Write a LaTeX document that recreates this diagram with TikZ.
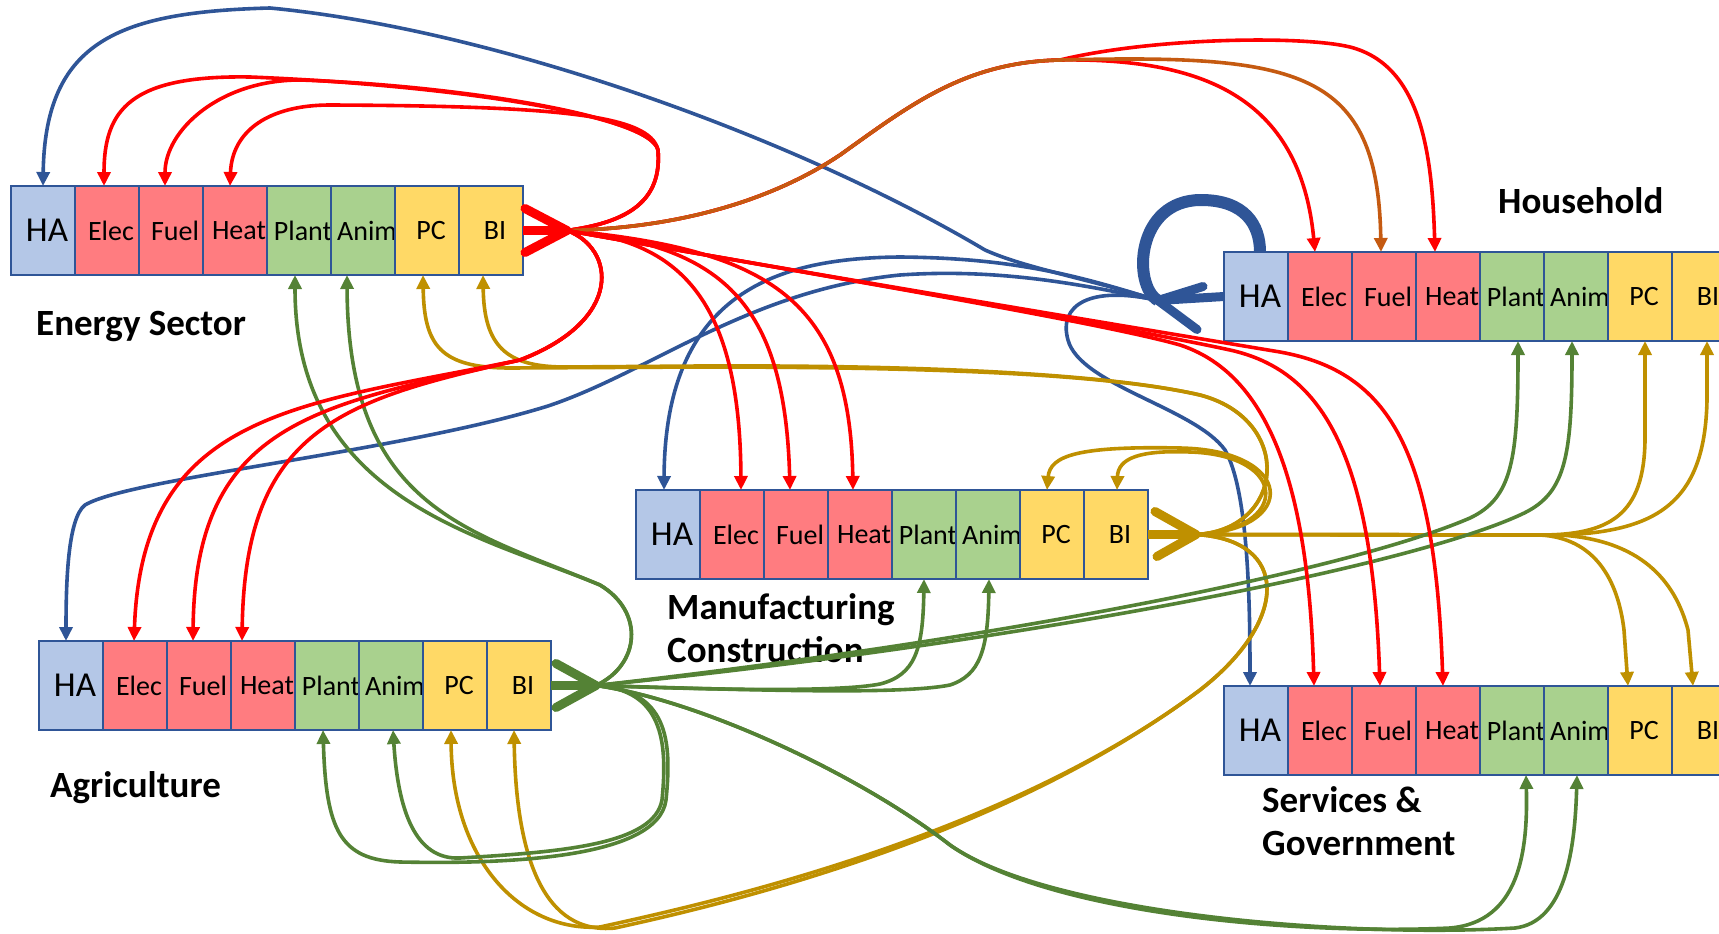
\documentclass[tikz,border=0pt]{standalone}
\usepackage{fontspec}
\setmainfont{Carlito}
\usepackage{xcolor}
\usetikzlibrary{positioning, arrows.meta, calc}

\definecolor{haFill}{HTML}{B4C7E7}
\definecolor{enFill}{HTML}{FF7C80}
\definecolor{bioFill}{HTML}{A9D18E}
\definecolor{prodFill}{HTML}{FFD966}
\definecolor{frameBlue}{HTML}{2F5597}
\definecolor{flowRed}{HTML}{FF0000}
\definecolor{flowOrange}{HTML}{C55A11}
\definecolor{flowGold}{HTML}{BF9000}
\definecolor{flowGreen}{HTML}{548235}

% one sector = a row of eight cells
\newcommand{\sectorrow}[3]{%
  \node[cell, fill=haFill, anchor=north west] (#1-HA) at (#2,#3) {\makebox[0pt]{\hspace{8pt}\fontsize{35}{35}\selectfont HA}};
  \foreach \c/\f [remember=\c as \p (initially HA)] in {Elec/enFill, Fuel/enFill, Heat/enFill, Plant/bioFill, Anim/bioFill, PC/prodFill, BI/prodFill}
    \node[cell, fill=\f, right=0pt of #1-\p] (#1-\c) {\makebox[0pt]{\hspace{8pt}\c}};
}

% thick output mark: stem and chevron
\newcommand{\hubmark}[5]{%
  \draw[#1, line width=9pt] (#2) -- (#3);
  \draw[#1, line width=9pt, line cap=round, line join=round] ($(#3)+(#4)$) -- (#3) -- ($(#3)+(#5)$);
}

\begin{document}
\begin{tikzpicture}[
    x=1pt, y=-1pt,
    cell/.style={draw=frameBlue, line width=2pt, minimum width=64pt, minimum height=89pt, inner sep=0pt, outer sep=0pt, font=\fontsize{28}{28}\selectfont},
    flow/.style={line width=3.6pt, -{Triangle[length=14pt, width=13pt]}},
    sectorlabel/.style={font=\bfseries\fontsize{37}{43}\selectfont, inner sep=0pt, align=left, anchor=base west}
  ]
  \useasboundingbox (0,0) rectangle (1719,934);

  % Sectors
  \sectorrow{en}{11}{186}
  \sectorrow{hh}{1224}{252}
  \sectorrow{mf}{636}{490}
  \sectorrow{ag}{39}{641}
  \sectorrow{se}{1224}{686}

  \node[sectorlabel] (enLabel) at (36,335) {Energy Sector};
  \node[sectorlabel] (hhLabel) at (1498,213) {Household};
  \node[sectorlabel] (mfLabel) at (667,662) {Manufacturing\\Construction};
  \node[sectorlabel] (agLabel) at (50,797) {Agriculture};
  \node[sectorlabel] (seLabel) at (1262,855) {Services \&\\Government};

  % Hubs
  \coordinate (en-hub) at ($(en-BI.east)+(44,0)$);
  \coordinate (mf-hub) at ($(mf-BI.east)+(48,0)$);
  \coordinate (ag-hub) at ($(ag-BI.east)+(45,0)$);
  \coordinate (hh-hub) at ($(hh-HA.west)+(-66,4)$);

  % Household HA (blue)
  \draw[flow, frameBlue] (hh-hub) .. controls (1085,278) and (1025,268) .. (985,250) .. controls (800,140) and (500,30) .. (270,8) .. controls (120,12) and (45,40) .. (en-HA.north);
  \draw[flow, frameBlue] (hh-hub) .. controls (1085,278) and (1020,258) .. (900,257) .. controls (780,258) and (665,290) .. ([xshift=-4pt]mf-HA.north);
  \draw[flow, frameBlue] (hh-hub) .. controls (1085,285) and (1000,268) .. (900,275) .. controls (750,290) and (650,372) .. (548,406) .. controls (400,452) and (130,478) .. (85,505) .. controls (68,518) and (66,580) .. ([xshift=-5pt]ag-HA.north);
  \draw[flow, frameBlue] (hh-hub) .. controls (1090,285) and (1058,305) .. (1068,340) .. controls (1080,385) and (1195,408) .. (1225,450) .. controls (1248,490) and (1250,600) .. ([xshift=-6pt]se-HA.north);
  \draw[frameBlue, line width=12pt] (hh-hub) .. controls (1132,285) and (1136,200) .. (1201,200) .. controls (1245,200) and (1260,225) .. ([xshift=4pt]hh-HA.north);

  % Manufacturing PC/BI (gold)
  \draw[flow, flowGold] (mf-hub) .. controls (1285,530) and (1295,420) .. (1200,395) .. controls (1100,372) and (900,367) .. (700,367) -- (510,368) .. controls (440,368) and (424,345) .. ([xshift=-4pt]en-PC.south);
  \draw[flow, flowGold] (mf-hub) .. controls (1285,530) and (1295,420) .. (1200,395) .. controls (1100,372) and (900,365) .. (700,366) -- (565,367) .. controls (505,367) and (484,345) .. ([xshift=-8pt]en-BI.south);
  \draw[flow, flowGold] (mf-hub) .. controls (1300,530) and (1295,450) .. (1180,448) .. controls (1080,446) and (1050,455) .. ([xshift=-5pt]mf-PC.north);
  \draw[flow, flowGold] (mf-hub) .. controls (1290,530) and (1290,455) .. (1190,452) .. controls (1140,450) and (1118,458) .. ([xshift=1pt]mf-BI.north);
  \draw[flow, flowGold] (mf-hub) .. controls (1290,540) and (1290,620) .. (1200,690) .. controls (1000,840) and (700,905) .. (600,927) .. controls (520,932) and (452,860) .. ([xshift=-4pt]ag-PC.south);
  \draw[flow, flowGold] (mf-hub) .. controls (1290,540) and (1290,620) .. (1200,690) .. controls (1000,840) and (720,905) .. (615,928) .. controls (545,935) and (516,860) .. ([xshift=-5pt]ag-BI.south);
  \draw[flow, flowGold] (mf-hub) -- (1540,535) .. controls (1610,535) and (1644,515) .. (1645,440) -- ([xshift=5pt]hh-PC.south);
  \draw[flow, flowGold] (mf-hub) -- (1560,535) .. controls (1660,532) and (1705,500) .. (1707,400) -- ([xshift=3pt]hh-BI.south);
  \draw[flow, flowGold] (mf-hub) -- (1540,535) .. controls (1595,538) and (1618,580) .. (1624,630) -- ([xshift=-12pt]se-PC.north);
  \draw[flow, flowGold] (mf-hub) -- (1560,535) .. controls (1640,540) and (1675,580) .. (1688,630) -- ([xshift=-11pt]se-BI.north);

  % Agriculture Plant/Anim (green)
  \draw[flow, flowGreen] (ag-hub) .. controls (640,665) and (645,612) .. (600,585) .. controls (480,535) and (295,500) .. ([xshift=-4pt]en-Plant.south);
  \draw[flow, flowGreen] (ag-hub) .. controls (640,665) and (645,612) .. (600,585) .. controls (470,530) and (348,510) .. ([xshift=-16pt]en-Anim.south);
  \draw[flow, flowGreen] (ag-hub) .. controls (668,690) and (672,740) .. (666,800) .. controls (658,860) and (500,864) .. (400,862) .. controls (340,860) and (326,830) .. ([xshift=-4pt]ag-Plant.south);
  \draw[flow, flowGreen] (ag-hub) .. controls (662,690) and (668,740) .. (662,800) .. controls (654,845) and (560,852) .. (460,858) .. controls (415,860) and (398,810) .. ([xshift=2pt]ag-Anim.south);
  \draw[flow, flowGreen] (ag-hub) .. controls (720,690) and (840,692) .. (880,684) .. controls (915,675) and (923,650) .. (mf-Plant.south);
  \draw[flow, flowGreen] (ag-hub) .. controls (750,690) and (900,695) .. (950,685) .. controls (980,675) and (988,650) .. ([xshift=1pt]mf-Anim.south);
  \draw[flow, flowGreen] (ag-hub) .. controls (1000,640) and (1350,570) .. (1470,518) .. controls (1512,498) and (1518,460) .. ([xshift=6pt]hh-Plant.south);
  \draw[flow, flowGreen] (ag-hub) .. controls (1000,645) and (1400,570) .. (1520,515) .. controls (1565,495) and (1572,460) .. ([xshift=-4pt]hh-Anim.south);
  \draw[flow, flowGreen] (ag-hub) .. controls (700,700) and (860,775) .. (950,845) .. controls (1050,915) and (1300,935) .. (1450,928) .. controls (1520,922) and (1528,850) .. ([xshift=14pt]se-Plant.south);
  \draw[flow, flowGreen] (ag-hub) .. controls (700,700) and (860,775) .. (950,845) .. controls (1050,915) and (1350,938) .. (1515,928) .. controls (1565,922) and (1575,850) .. ([xshift=1pt]se-Anim.south);

  % Energy Elec/Fuel/Heat (red)
  \draw[flow, flowRed] (en-hub) .. controls (630,222) and (662,200) .. (658,150) .. controls (650,115) and (450,85) .. (250,77) .. controls (130,75) and (104,110) .. ([xshift=-3pt]en-Elec.north);
  \draw[flow, flowRed] (en-hub) .. controls (630,222) and (662,200) .. (658,150) .. controls (650,115) and (450,85) .. (300,80) .. controls (220,80) and (165,130) .. ([xshift=-6pt]en-Fuel.north);
  \draw[flow, flowRed] (en-hub) .. controls (630,222) and (662,200) .. (658,150) .. controls (650,115) and (560,106) .. (330,105) .. controls (270,105) and (232,130) .. ([xshift=-5pt]en-Heat.north);
  \draw[flow, flowRed] (en-hub) .. controls (615,248) and (625,320) .. (520,360) .. controls (300,405) and (142,410) .. ([xshift=-1pt]ag-Elec.north);
  \draw[flow, flowRed] (en-hub) .. controls (615,248) and (625,320) .. (520,360) .. controls (320,405) and (195,420) .. ([xshift=-6pt]ag-Fuel.north);
  \draw[flow, flowRed] (en-hub) .. controls (615,248) and (625,320) .. (520,360) .. controls (340,400) and (245,430) .. ([xshift=-21pt]ag-Heat.north);
  \draw[flow, flowRed] (en-hub) .. controls (680,240) and (740,300) .. ([xshift=9pt]mf-Elec.north);
  \draw[flow, flowRed] (en-hub) .. controls (720,245) and (785,300) .. ([xshift=-6pt]mf-Fuel.north);
  \draw[flow, flowRed] (en-hub) .. controls (770,250) and (850,300) .. ([xshift=-7pt]mf-Heat.north);
  \draw[flow, flowRed] (en-hub) .. controls (690,228) and (780,195) .. (840,155) .. controls (910,105) and (965,62) .. (1060,60) .. controls (1200,58) and (1300,95) .. ([xshift=-5pt]hh-Elec.north);
  \draw[flow, flowRed] (en-hub) .. controls (690,228) and (780,195) .. (840,155) .. controls (910,105) and (965,62) .. (1060,60) .. controls (1150,38) and (1300,35) .. (1350,47) .. controls (1420,65) and (1432,150) .. ([xshift=-13pt]hh-Heat.north);
  \draw[flow, flowOrange] (en-hub) .. controls (690,228) and (780,195) .. (840,155) .. controls (910,105) and (965,62) .. (1060,60) .. controls (1300,54) and (1378,70) .. ([xshift=-3pt]hh-Fuel.north);
  \draw[flow, flowRed] (en-hub) .. controls (800,272) and (1100,322) .. (1180,345) .. controls (1262,372) and (1308,470) .. ([xshift=-6pt]se-Elec.north);
  \draw[flow, flowRed] (en-hub) .. controls (800,272) and (1100,322) .. (1230,350) .. controls (1320,370) and (1372,450) .. ([xshift=-4pt]se-Fuel.north);
  \draw[flow, flowRed] (en-hub) .. controls (800,272) and (1100,322) .. (1280,352) .. controls (1390,372) and (1435,450) .. ([xshift=-5pt]se-Heat.north);

  % Output marks
  \hubmark{flowRed}{en-BI.east}{en-hub}{-42,-22}{-42,22}
  \hubmark{flowGold}{mf-BI.east}{mf-hub}{-41,-23}{-39,22}
  \hubmark{flowGreen}{ag-BI.east}{ag-hub}{-40,-22}{-40,22}
  \hubmark{frameBlue}{hh-HA.west}{hh-hub}{45,-14}{39,29}
\end{tikzpicture}
\end{document}
